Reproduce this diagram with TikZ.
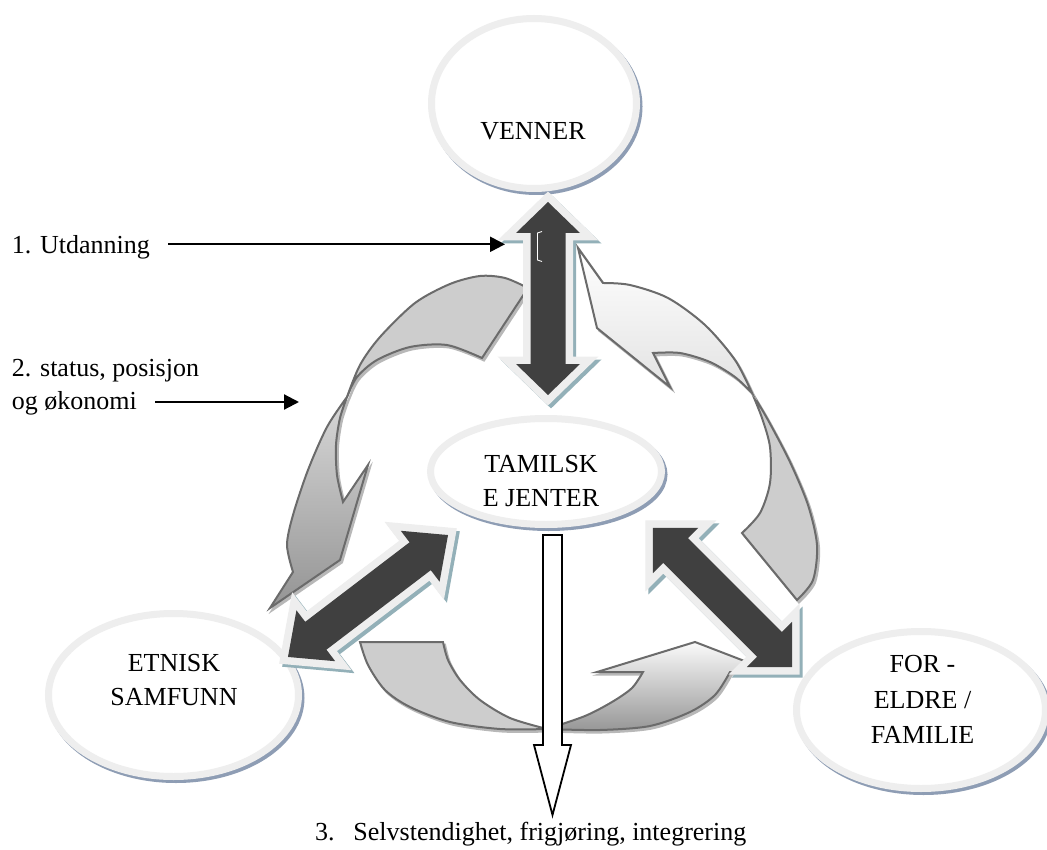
\documentclass[tikz,border=0pt]{standalone}
\usepackage{fontspec}
\setmainfont{Liberation Serif}
\usetikzlibrary{shapes.geometric,arrows.meta,shadows}
\definecolor{darkarr}{HTML}{404040}
\definecolor{ringgray}{HTML}{EEEEEE}
\definecolor{arrshadow}{HTML}{93B0B8}
\definecolor{ellshadow}{HTML}{8E9DB4}
\definecolor{curveline}{HTML}{6B6B6B}
\definecolor{curveback}{HTML}{CDCDCD}
\definecolor{curveshadow}{HTML}{B8B8B8}
\definecolor{leftA}{HTML}{D8D8D8}
\definecolor{leftB}{HTML}{949494}
\definecolor{rightB}{HTML}{E2E2E2}
\definecolor{botA}{HTML}{FAFAFA}
\definecolor{botB}{HTML}{979797}

% #1 name, #2 centre, #3 angle, #4 half length, #5 head length
\newcommand\blockdbl[5]{%
  \coordinate (#1) at #2;
  \begin{scope}[shift={#2},shift={(3,3)},rotate=#3]
    \path[fill=arrshadow,draw=arrshadow,line width=15pt,miter limit=3]
      (#4,0) -- (#4-#5,32) -- (#4-#5,17.5) -- (-#4+#5,17.5) -- (-#4+#5,32) -- (-#4,0)
      -- (-#4+#5,-32) -- (-#4+#5,-17.5) -- (#4-#5,-17.5) -- (#4-#5,-32) -- cycle;
  \end{scope}
  \begin{scope}[shift={#2},rotate=#3]
    \path[fill=ringgray,draw=ringgray,line width=15pt,miter limit=3]
      (#4,0) -- (#4-#5,32) -- (#4-#5,17.5) -- (-#4+#5,17.5) -- (-#4+#5,32) -- (-#4,0)
      -- (-#4+#5,-32) -- (-#4+#5,-17.5) -- (#4-#5,-17.5) -- (#4-#5,-32) -- cycle;
    \path[fill=darkarr]
      (#4,0) -- (#4-#5,32) -- (#4-#5,17.5) -- (-#4+#5,17.5) -- (-#4+#5,32) -- (-#4,0)
      -- (-#4+#5,-32) -- (-#4+#5,-17.5) -- (#4-#5,-17.5) -- (#4-#5,-32) -- cycle;
  \end{scope}}

\begin{document}
\begin{tikzpicture}[x=1pt,y=-1pt,
  every node/.style={inner sep=0pt,outer sep=0pt,font=\fontsize{26}{34}\selectfont},
  bubble/.style={ellipse,fill=white,draw=ringgray,line width=7pt,
    general shadow={fill=ellshadow,draw=ellshadow,line width=7pt,shadow xshift=2.5pt,shadow yshift=-3pt}},
  curvearrow/.style={draw=curveline,line width=2pt,line join=miter,
    general shadow={fill=curveshadow,draw=curveshadow,line width=2pt,shadow xshift=2pt,shadow yshift=-2.5pt}},
  labarrow/.style={-{Triangle[length=15pt,width=15pt]},line width=2.2pt,black},
  whitearrow/.style={fill=white,draw=black,line width=1.8pt,line join=miter}]
\useasboundingbox (0,0) rectangle (1047,850);
\fill[white] (0,0) rectangle (1047,850);

% ellipses
\node[bubble,minimum width=205pt,minimum height=170pt] (venner) at (534,103.5) {};
\node[bubble,minimum width=231pt,minimum height=106pt] (tamil) at (546,471.5) {};
\node[bubble,minimum width=250pt,minimum height=163pt] (etnisk) at (173.5,695) {};
\node[bubble,minimum width=249pt,minimum height=157pt] (foreldre) at (921,710) {};

% left curved arrow
\path[curvearrow,fill=curveback] (528,288)
  -- plot[smooth] coordinates {(528,288) (505,278) (480,276) (450,284) (415,303) (380,337) (360,365) (347,397)}
  -- plot[smooth] coordinates {(347,397) (357,377) (377,360) (410,347) (447,345) (482,358)}
  -- cycle;
\path[curvearrow,top color=leftA,bottom color=leftB] (347,397)
  -- plot[smooth] coordinates {(347,397) (327,427) (308,470) (293,515) (287,545) (293,572)}
  -- (270,608) -- (340,560) -- (368,465) -- (343,502)
  -- plot[smooth] coordinates {(343,502) (337,475) (336,445) (340,418) (347,397)}
  -- cycle;

% right curved arrow
\path[curvearrow,fill=curveback] (752,393)
  -- plot[smooth] coordinates {(752,393) (768,420) (790,462) (808,505) (817,545) (813,580) (797,600)}
  -- (742,533)
  -- plot[smooth] coordinates {(742,533) (760,513) (770,483) (770,447) (762,418) (752,393)}
  -- cycle;
\path[curvearrow,top color=white,bottom color=rightB] (578,248) -- (603,283)
  -- plot[smooth] coordinates {(603,283) (630,285) (668,298) (705,325) (735,360) (752,393)}
  -- plot[smooth] coordinates {(752,393) (735,377) (710,362) (680,353) (653,353)}
  -- (670,387) -- (597,328) -- cycle;

% bottom curved arrow
\path[curvearrow,fill=curveback] (360,642) -- (443,642)
  -- plot[smooth] coordinates {(443,642) (448,660) (460,680) (480,700) (510,718) (547,729)}
  -- plot[smooth] coordinates {(547,729) (500,729) (450,722) (410,707) (385,690) (368,665) (360,642)}
  -- cycle;
\path[curvearrow,top color=botA,bottom color=botB] (547,729)
  -- plot[smooth] coordinates {(547,729) (585,716) (612,702) (632,688) (643,672)}
  -- (597,672) -- (695,642) -- (773,672) -- (730,672)
  -- plot[smooth] coordinates {(730,672) (715,695) (690,712) (650,726) (600,730) (547,729)}
  -- cycle;

% dark double arrows
\blockdbl{arrV}{(548,298.5)}{90}{96.5}{31}
\blockdbl{arrL}{(368,596)}{37.3}{100.6}{35}
\blockdbl{arrR}{(722.5,597.5)}{-45}{98.3}{32}
\draw[white,line width=0.8pt] (542,231.5) -- (537.5,233) -- (537.5,260) -- (542,261.5);

% white down arrow
\coordinate (wtop) at (552.5,535);
\coordinate (wtip) at (552.5,815);
\path[whitearrow] (543,535) -- (562,535) -- (562,745) -- (571,745) -- (wtip) -- (534,745) -- (543,745) -- cycle;

% texts
\node (vennerT) at (533,131) {VENNER};
\node[align=center] (tamilT) at (541,481.5) {TAMILSK\\E JENTER};
\node[align=center] (etniskT) at (174,680.5) {ETNISK\\SAMFUNN};
\node[align=center,font=\fontsize{26}{35.5}\selectfont] (foreldreT) at (922.5,699.5) {FOR -\\ELDRE /\\FAMILIE};

\node[anchor=base west] (lab1) at (12,253.5) {1. Utdanning};
\node[anchor=north west,align=left,font=\fontsize{26}{33}\selectfont] (lab2) at (12,359) {2. status, posisjon\\og økonomi};
\node[anchor=base west] (lab3) at (315,840.5) {3.\hspace{19pt}Selvstendighet, frigjøring, integrering};

\coordinate (tail1) at (168,244.3);
\coordinate (tip1) at (505,244.3);
\coordinate (tail2) at (155,402);
\coordinate (tip2) at (299,402);
\draw[labarrow] (tail1) -- (tip1);
\draw[labarrow] (tail2) -- (tip2);
\end{tikzpicture}
\end{document}
